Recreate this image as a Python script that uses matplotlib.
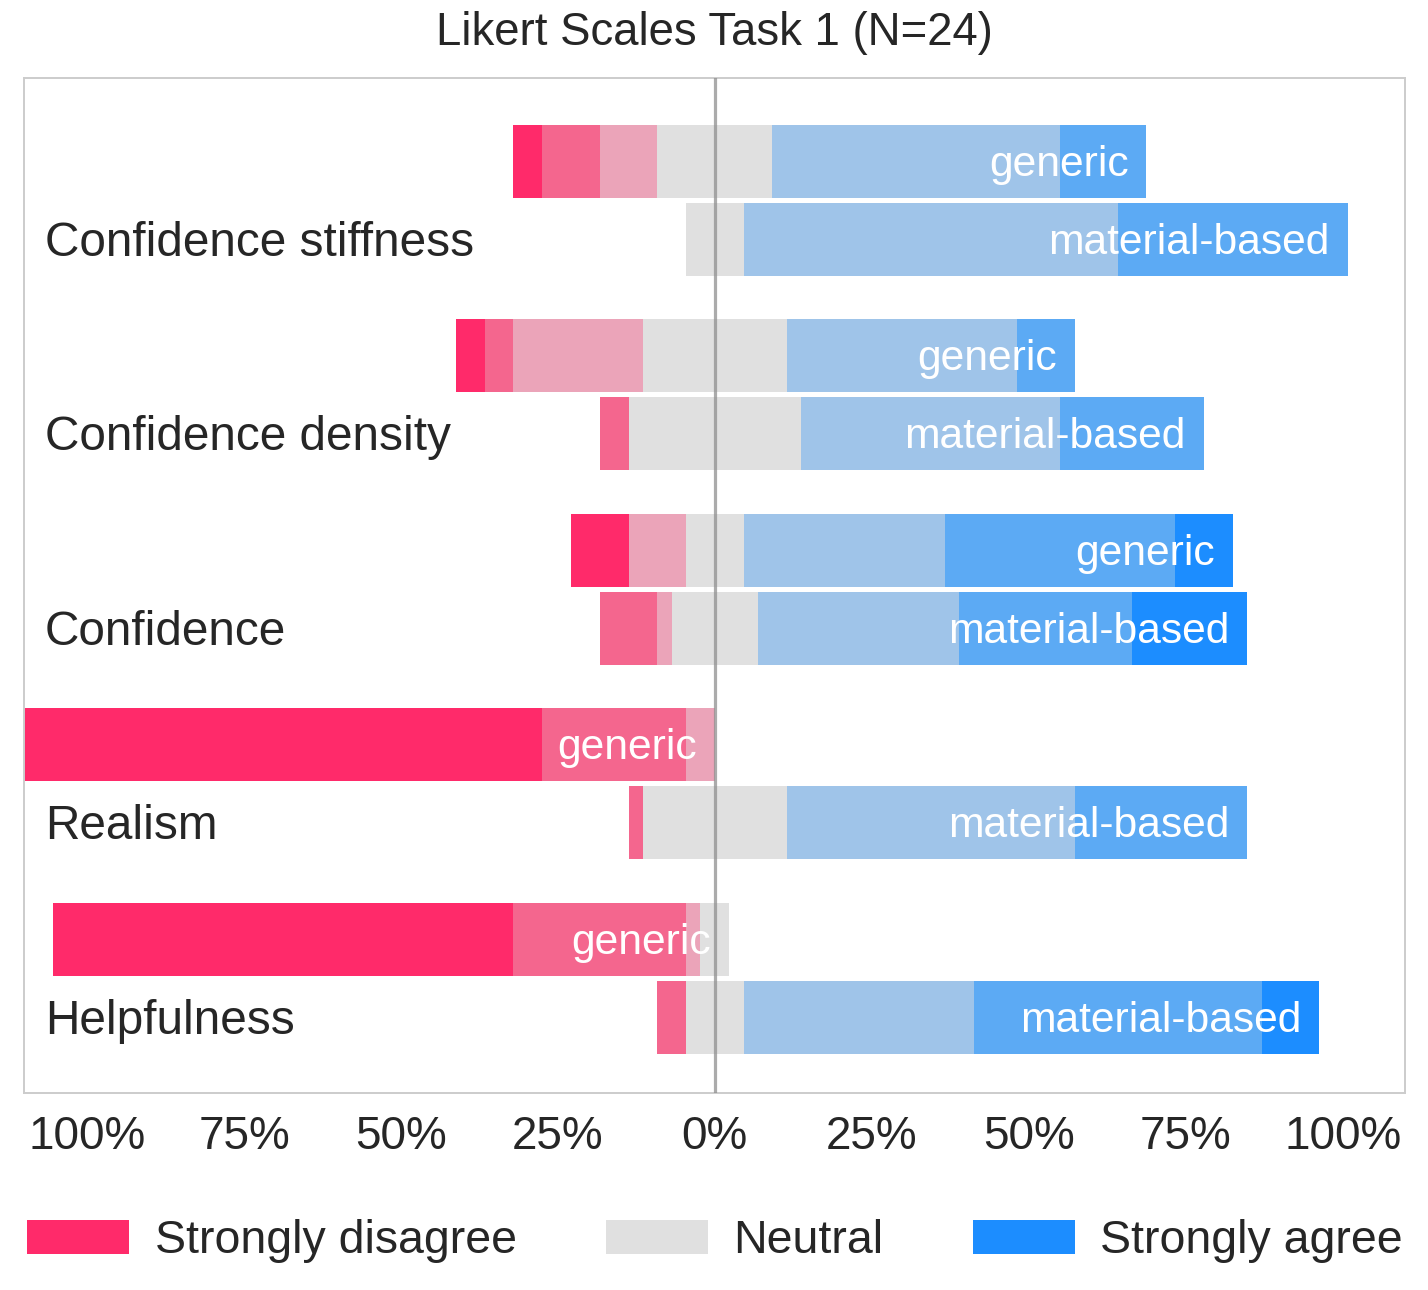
import matplotlib
matplotlib.use("Agg")
import matplotlib.pyplot as plt
from matplotlib.patches import Patch
import matplotlib.transforms as mtransforms

plt.rcParams['font.family'] = ['Liberation Sans', 'DejaVu Sans']

title = "Likert Scales Task 1 (N=24)"
questions = ["Confidence stiffness", "Confidence density", "Confidence", "Realism", "Helpfulness"]
levels = ["Strongly disagree", "Disagree", "Somewhat disagree", "Neutral",
          "Somewhat agree", "Agree", "Strongly agree"]
colors = ["#ff2a6a", "#f4668e", "#eba4b9", "#e0e0e0", "#9fc4e9", "#5caaf4", "#1c8dff"]
conditions = ["generic", "material-based"]

# response counts per level (N=24)
generic = [
    [1, 2, 2, 4, 10, 3, 0],
    [1, 1, 4.5, 5, 8, 2, 0],
    [2, 0, 2, 2, 7, 8, 2],
    [18, 5, 1, 0, 0, 0, 0],
    [16, 6, 0.5, 1, 0, 0, 0],
]
material = [
    [0, 0, 0, 2, 13, 8, 0],
    [0, 1, 0, 6, 9, 5, 0],
    [0, 2, 0.5, 3, 7, 6, 4],
    [0, 0.5, 0, 5, 10, 6, 0],
    [0, 1, 0, 2, 8, 10, 2],
]
tick_pcts = [100, 75, 50, 25, 0, 25, 50, 75, 100]

N = 24
FULL = N / 1.1
text_col = "#262626"

fig = plt.figure(figsize=(14.28, 12.9), dpi=100)
ax = fig.add_axes([0.0170, 0.1527, 0.9672, 0.7868])

bar_h = 0.375
offs = [-0.2, 0.2]
down = mtransforms.ScaledTranslation(0, -4 / 100.0, fig.dpi_scale_trans)
for qi, q in enumerate(questions):
    for ci, data in enumerate([generic, material]):
        vals = data[qi]
        y = qi + offs[ci]
        left = -(sum(vals[:3]) + vals[3] / 2.0)
        start = left
        for li, v in enumerate(vals):
            if v > 0:
                ax.barh(y, v, left=start, height=bar_h, color=colors[li], linewidth=0, zorder=2)
            start += v
        ax.annotate(conditions[ci], xy=(start, y), xytext=(-13, -2.5), textcoords='offset points',
                    ha='right', va='center', color='white', fontsize=30.7, zorder=4)
    trans = mtransforms.blended_transform_factory(ax.transAxes, ax.transData) + down
    ax.text(0.015, qi + offs[1], q, transform=trans, ha='left', va='center',
            fontsize=34.4, color=text_col, zorder=5)

ax.axvline(0, color='#8f8f8f', alpha=0.75, lw=2.3, zorder=3)

ax.set_xlim(-N, N)
ax.set_ylim(4.59, -0.628)
tick_pos = [(-1 if i < 4 else 1) * FULL * p / 100.0 for i, p in enumerate(tick_pcts)]
ax.set_xticks(tick_pos)
ax.set_xticklabels([f"{p}%" for p in tick_pcts])
ax.set_yticks([])
ax.tick_params(axis='x', length=0, pad=16, labelsize=33, labelcolor=text_col)
for s in ax.spines.values():
    s.set_color('#cccccc')
    s.set_linewidth(1.4)
ax.set_title(title, fontsize=32.8, color=text_col, pad=24)

handles = [Patch(facecolor=colors[i], label=levels[i]) for i in (0, 3, 6)]
ax.legend(handles=handles, loc='center', bbox_to_anchor=(0.0, -0.181, 1.0, 0.07),
          mode='expand', ncol=3, frameon=False, borderaxespad=0, borderpad=0.05,
          handlelength=2.2, handleheight=0.74, handletextpad=0.55, fontsize=33.5,
          labelcolor=text_col)

fig.savefig("out.png", dpi=100)
